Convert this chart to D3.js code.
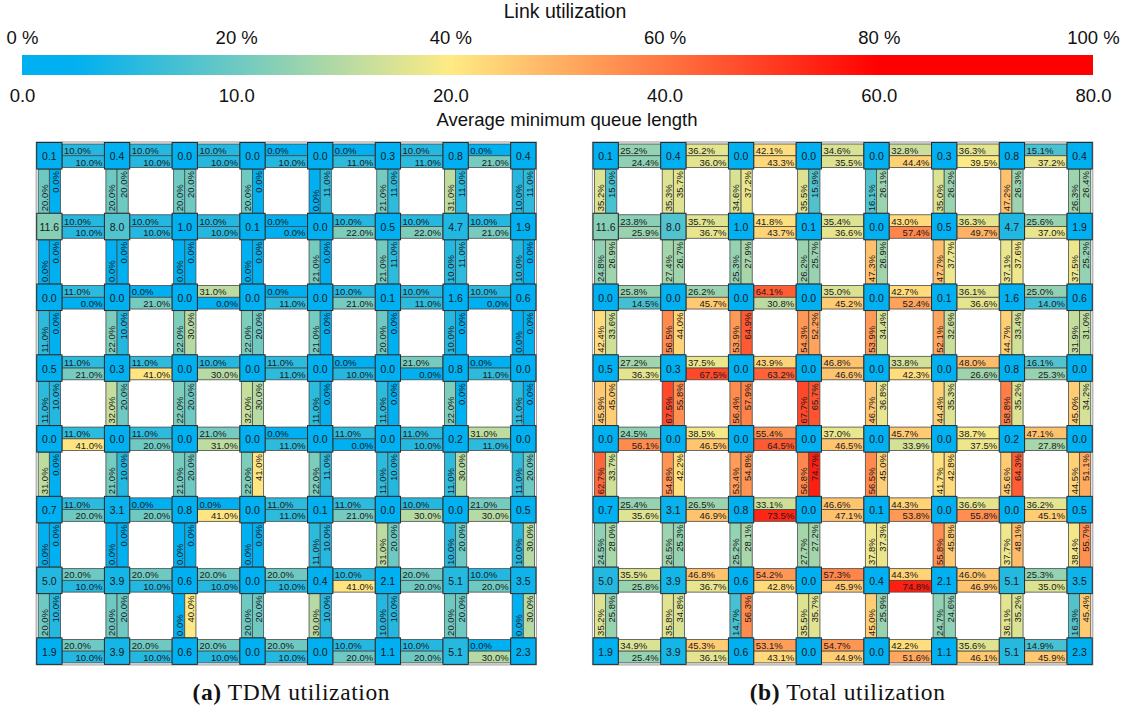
<!DOCTYPE html>
<html><head><meta charset="utf-8">
<script src="https://cdn.jsdelivr.net/npm/d3@7"></script>
<style>body{margin:0;background:#fff;} svg{display:block}</style>
</head><body><svg id="c" width="1131" height="710"></svg>
<script>
// ---------------- DATA ----------------
const utilTicks = [0, 20, 40, 60, 80, 100];           // % labels on colour bar
const queueTicks = [0, 10, 20, 40, 60, 80];           // queue-length labels on colour bar
const captions = [["(a)", " TDM utilization"], ["(b)", " Total utilization"]];

// Average minimum queue length per router (8 rows x 8 cols), same in both panels
const queueLength = [
  [0.1, 0.4, 0.0, 0.0, 0.0, 0.3, 0.8, 0.4],
  [11.6, 8.0, 1.0, 0.1, 0.0, 0.5, 4.7, 1.9],
  [0.0, 0.0, 0.0, 0.0, 0.0, 0.1, 1.6, 0.6],
  [0.5, 0.3, 0.0, 0.0, 0.0, 0.0, 0.8, 0.0],
  [0.0, 0.0, 0.0, 0.0, 0.0, 0.0, 0.2, 0.0],
  [0.7, 3.1, 0.8, 0.0, 0.1, 0.0, 0.0, 0.5],
  [5.0, 3.9, 0.6, 0.0, 0.4, 2.1, 5.1, 3.5],
  [1.9, 3.9, 0.6, 0.0, 0.0, 1.1, 5.1, 2.3]
];

// (a) TDM utilization — horizontal links (8 rows x 7), upper and lower half
const tdmHTop = [
  [10, 10, 10, 0, 0, 10, 0],
  [10, 10, 10, 0, 10, 10, 10],
  [11, 0, 31, 0, 10, 10, 10],
  [11, 11, 10, 11, 0, 21, 0],
  [11, 11, 21, 0, 11, 11, 31],
  [11, 0, 0, 11, 11, 10, 21],
  [20, 20, 20, 20, 10, 20, 10],
  [20, 20, 20, 20, 10, 10, 0]
];
const tdmHBottom = [
  [10, 10, 10, 10, 11, 11, 21],
  [10, 10, 10, 0, 22, 22, 21],
  [0, 21, 0, 11, 21, 11, 0],
  [21, 41, 30, 11, 10, 0, 11],
  [41, 20, 31, 11, 0, 10, 11],
  [20, 20, 41, 11, 21, 30, 30],
  [10, 10, 10, 10, 41, 20, 20],
  [10, 10, 10, 10, 20, 20, 30]
];
// vertical links (7 rows x 8), left and right half
const tdmVLeft = [
  [20, 20, 20, 20, 0, 21, 31, 10],
  [0, 0, 0, 0, 21, 21, 10, 10],
  [11, 22, 22, 22, 21, 20, 10, 0],
  [11, 32, 22, 32, 11, 11, 22, 11],
  [31, 21, 21, 22, 22, 11, 11, 11],
  [0, 0, 0, 0, 11, 31, 10, 10],
  [20, 20, 0, 20, 30, 10, 20, 0]
];
const tdmVRight = [
  [0, 20, 20, 0, 11, 11, 11, 11],
  [0, 0, 0, 0, 0, 11, 11, 0],
  [0, 10, 30, 20, 0, 0, 0, 0],
  [10, 20, 20, 30, 0, 0, 0, 0],
  [0, 10, 20, 41, 11, 10, 30, 20],
  [0, 0, 0, 0, 10, 20, 20, 30],
  [10, 20, 40, 20, 10, 10, 20, 30]
];

// (b) Total utilization
const totHTop = [
  [25.2, 36.2, 42.1, 34.6, 32.8, 36.3, 15.1],
  [23.8, 35.7, 41.8, 35.4, 43.0, 36.3, 25.6],
  [25.8, 26.2, 64.1, 35.0, 42.7, 36.1, 25.0],
  [27.2, 37.5, 43.9, 46.8, 33.8, 48.0, 16.1],
  [24.5, 38.5, 55.4, 37.0, 45.7, 38.7, 47.1],
  [25.4, 26.5, 33.1, 46.6, 44.3, 36.6, 36.2],
  [35.5, 46.8, 54.2, 57.3, 44.3, 46.0, 25.3],
  [34.9, 45.3, 53.1, 54.7, 42.2, 35.6, 14.9]
];
const totHBottom = [
  [24.4, 36.0, 43.3, 35.5, 44.4, 39.5, 37.2],
  [25.9, 36.7, 43.7, 36.6, 57.4, 49.7, 37.0],
  [14.5, 45.7, 30.8, 45.2, 52.4, 36.6, 14.0],
  [36.3, 67.5, 63.2, 46.6, 42.3, 26.6, 25.3],
  [56.1, 46.5, 64.5, 46.5, 33.9, 37.5, 27.8],
  [35.6, 46.9, 73.5, 47.1, 53.8, 55.8, 45.1],
  [25.8, 36.7, 42.8, 45.9, 74.8, 46.9, 35.0],
  [25.4, 36.1, 43.1, 44.9, 51.6, 46.1, 45.9]
];
const totVLeft = [
  [35.2, 35.3, 34.6, 35.5, 16.1, 35.0, 47.2, 26.3],
  [24.8, 27.4, 25.3, 26.2, 47.3, 47.7, 37.1, 37.5],
  [42.4, 56.5, 53.9, 54.3, 53.9, 52.1, 44.7, 31.9],
  [45.9, 67.5, 56.4, 67.7, 46.7, 44.4, 58.8, 45.0],
  [62.7, 54.8, 53.4, 56.8, 56.5, 41.7, 45.6, 44.5],
  [24.5, 26.5, 25.2, 27.7, 37.8, 55.8, 37.7, 38.4],
  [35.2, 35.8, 14.7, 35.5, 45.0, 24.7, 36.1, 16.3]
];
const totVRight = [
  [15.0, 35.7, 37.2, 15.9, 26.1, 26.2, 26.3, 26.4],
  [26.9, 26.7, 27.9, 25.7, 26.9, 37.7, 37.6, 25.2],
  [33.6, 44.0, 64.9, 52.2, 34.4, 32.6, 33.4, 31.0],
  [45.0, 55.8, 57.9, 65.7, 36.8, 35.3, 35.2, 34.2],
  [33.7, 42.2, 54.8, 74.7, 45.0, 42.8, 64.3, 51.1],
  [28.0, 25.3, 28.1, 27.2, 37.3, 45.8, 48.1, 55.7],
  [25.8, 34.8, 56.3, 35.7, 25.9, 24.6, 35.2, 45.4]
];

// ---------------- SCALES ----------------
const svg = d3.select("#c");
const cellFont = "'Liberation Sans',Arial,sans-serif";
const titleFont = "'Liberation Sans',Arial,sans-serif";

const utilColor = d3.scaleLinear()
  .domain([0, 5, 40, 80, 100])
  .range(["#00B0F0", "#00B0F0", "#FFEB84", "#FF0000", "#FF0000"])
  .interpolate(d3.interpolateRgb).clamp(true);
const queueToUtil = d3.scaleLinear().domain(queueTicks).range(utilTicks).clamp(true);

const barX0 = 22, barX1 = 1093, barY = 55, barH = 20;
const utilX = d3.scaleLinear().domain([0, 100]).range([barX0, barX1]);
const queueX = d3.scaleLinear().domain(queueTicks).range(utilTicks.map(utilX));

// ---------------- COLOUR BAR ----------------
const defs = svg.append("defs");
const grad = defs.append("linearGradient").attr("id", "cb").attr("x1", "0%").attr("x2", "100%");
d3.range(0, 101, 2).forEach(p => grad.append("stop").attr("offset", p + "%").attr("stop-color", utilColor(p)));
svg.append("rect").attr("x", barX0).attr("y", barY).attr("width", barX1 - barX0).attr("height", barH).attr("fill", "url(#cb)");

const topAxis = svg.append("g").attr("transform", `translate(0,${barY})`)
  .call(d3.axisTop(utilX).tickValues(utilTicks).tickFormat(d => d + " %").tickSize(0).tickPadding(11));
const botAxis = svg.append("g").attr("transform", `translate(0,${barY + barH})`)
  .call(d3.axisBottom(queueX).tickValues(queueTicks).tickFormat(d3.format(".1f")).tickSize(0).tickPadding(14));
[topAxis, botAxis].forEach(a => {
  a.select(".domain").remove();
  a.selectAll("text").attr("font-family", titleFont).attr("font-size", 18.5).attr("fill", "#111");
});
svg.append("text").attr("x", 565).attr("y", 18).attr("text-anchor", "middle")
  .attr("font-family", titleFont).attr("font-size", 19.5).attr("fill", "#111").text("Link utilization");
svg.append("text").attr("x", 567).attr("y", 126).attr("text-anchor", "middle")
  .attr("font-family", titleFont).attr("font-size", 18.5).attr("fill", "#111").text("Average minimum queue length");

// ---------------- GRIDS ----------------
const nodeW = 25.3, nodeH = 26.5, pitchX = 67.71, pitchY = 70.77, gridY0 = 142.5;
const fmtPct = v => d3.format(".1f")(v) + "%";

function drawGrid(x0, hTop, hBot, vLeft, vRight, cap) {
  const g = svg.append("g");
  const colX = d3.scaleLinear().domain([0, 7]).range([x0, x0 + 7 * pitchX]);
  const rowY = d3.scaleLinear().domain([0, 7]).range([gridY0, gridY0 + 7 * pitchY]);
  const W = 7 * pitchX + nodeW, H = 7 * pitchY + nodeH;
  g.append("rect").attr("x", x0 - 0.5).attr("y", gridY0 - 0.5).attr("width", W + 1).attr("height", H + 1)
    .attr("fill", "#fff").attr("stroke", "#a8a8a8").attr("stroke-width", 1.2);

  const inset = 1.5;
  // horizontal links
  const hl = [];
  hTop.forEach((row, r) => row.forEach((v, c) => hl.push({ r, c, v, part: 0 })));
  hBot.forEach((row, r) => row.forEach((v, c) => hl.push({ r, c, v, part: 1 })));
  const hh = (nodeH - 2 * inset) / 2;
  const hg = g.selectAll(".hl").data(hl).join("g")
    .attr("transform", d => `translate(${colX(d.c) + nodeW},${rowY(d.r) + inset + d.part * hh})`);
  hg.append("rect").attr("width", pitchX - nodeW).attr("height", hh)
    .attr("fill", d => utilColor(d.v)).attr("stroke", "#4a4a4a").attr("stroke-width", 0.8);
  hg.append("text")
    .attr("x", d => d.part === 0 ? 2 : pitchX - nodeW - 2)
    .attr("y", hh / 2 + 0.5).attr("dominant-baseline", "central")
    .attr("text-anchor", d => d.part === 0 ? "start" : "end")
    .attr("font-family", cellFont).attr("font-size", 9.5).attr("fill", "#1a1a1a")
    .text(d => fmtPct(d.v));

  // vertical links
  const vl = [];
  vLeft.forEach((row, r) => row.forEach((v, c) => vl.push({ r, c, v, part: 0 })));
  vRight.forEach((row, r) => row.forEach((v, c) => vl.push({ r, c, v, part: 1 })));
  const vw = (nodeW - 2 * inset) / 2, vh = pitchY - nodeH;
  const vg = g.selectAll(".vl").data(vl).join("g")
    .attr("transform", d => `translate(${colX(d.c) + inset + d.part * vw},${rowY(d.r) + nodeH})`);
  vg.append("rect").attr("width", vw).attr("height", vh)
    .attr("fill", d => utilColor(d.v)).attr("stroke", "#4a4a4a").attr("stroke-width", 0.8);
  vg.append("text")
    .attr("transform", d => `translate(${vw / 2 + 0.5},${d.part === 0 ? vh - 2 : 2}) rotate(-90)`)
    .attr("dominant-baseline", "central")
    .attr("text-anchor", d => d.part === 0 ? "start" : "end")
    .attr("font-family", cellFont).attr("font-size", 9.5).attr("fill", "#1a1a1a")
    .text(d => fmtPct(d.v));

  // routers
  const nd = [];
  queueLength.forEach((row, r) => row.forEach((v, c) => nd.push({ r, c, v })));
  const ng = g.selectAll(".nd").data(nd).join("g")
    .attr("transform", d => `translate(${colX(d.c)},${rowY(d.r)})`);
  ng.append("rect").attr("width", nodeW).attr("height", nodeH)
    .attr("fill", d => utilColor(queueToUtil(d.v))).attr("stroke", "#2a2a2a").attr("stroke-width", 1);
  ng.append("text").attr("x", nodeW / 2).attr("y", nodeH / 2 + 0.5)
    .attr("dominant-baseline", "central").attr("text-anchor", "middle")
    .attr("font-family", cellFont).attr("font-size", 10.5).attr("fill", "#1a1a1a")
    .text(d => d3.format(".1f")(d.v));

  // caption
  const t = svg.append("text").attr("x", x0 + W / 2 + 5).attr("y", 700).attr("text-anchor", "middle")
    .attr("font-family", "'Liberation Serif','DejaVu Serif',serif").attr("font-size", 23.5)
    .attr("letter-spacing", 0.6).attr("fill", "#111");
  t.append("tspan").attr("font-weight", "bold").text(cap[0]);
  t.append("tspan").text(cap[1]);
}

drawGrid(36.7, tdmHTop, tdmHBottom, tdmVLeft, tdmVRight, captions[0]);
drawGrid(593, totHTop, totHBottom, totVLeft, totVRight, captions[1]);
</script></body></html>
